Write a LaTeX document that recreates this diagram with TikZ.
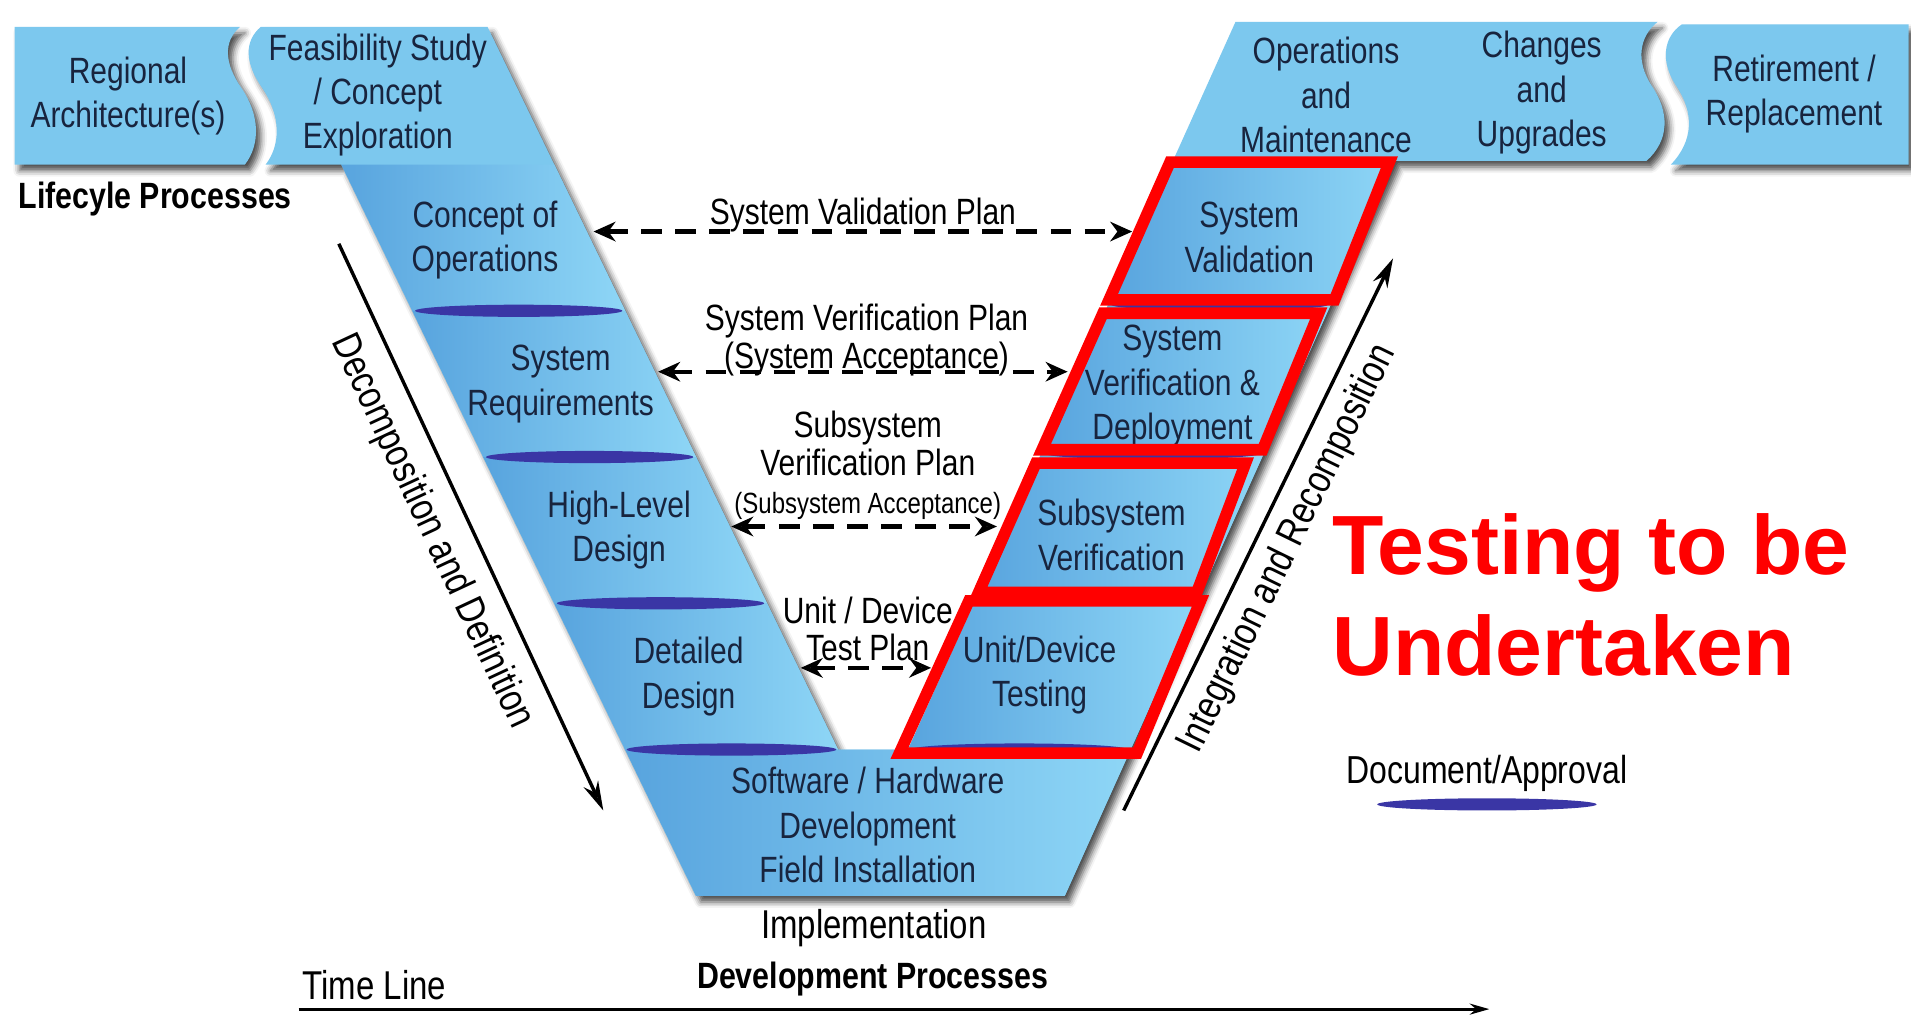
\documentclass[tikz,border=0pt]{standalone}
\usepackage{fontspec}
\setmainfont{Liberation Sans}[FakeStretch=0.82]
\newfontfamily\procfont{Liberation Sans}[FakeStretch=0.83]
\newfontfamily\bigfont{Liberation Sans}
\usepackage{xcolor}
\usepackage{tikz}
\usetikzlibrary{arrows.meta,shadows.blur}

\definecolor{bandblue}{RGB}{124,200,238}
\definecolor{legdark}{RGB}{88,164,222}
\definecolor{leglight}{RGB}{142,214,246}
\definecolor{lensblue}{RGB}{58,54,165}
\definecolor{boxtext}{RGB}{24,36,62}
\definecolor{testred}{RGB}{255,0,0}

\begin{document}
\begin{tikzpicture}[
    x=1pt, y=-1pt,
    shadowed/.style={blur shadow={shadow xshift=4pt, shadow yshift=-5pt, shadow blur radius=5pt, shadow opacity=70}},
    legpart/.style={left color=legdark, right color=leglight},
    lens/.style={fill=lensblue},
    box/.style={align=center, text=boxtext, font=\fontsize{30}{36.5}\selectfont},
    plan/.style={align=center, font=\fontsize{30}{31}\selectfont},
    side/.style={font=\fontsize{33}{36}\selectfont, inner sep=0pt},
    proc/.style={font=\procfont\bfseries\fontsize{30}{36}\selectfont, inner sep=0pt},
    planarr/.style={{Stealth[length=18pt,width=16pt]}-{Stealth[length=18pt,width=16pt]}, line width=3.5pt, dash pattern=on 17pt off 11pt},
    bigarr/.style={-{Stealth[length=24pt,width=13pt]}, line width=2.8pt},
    testbox/.style={draw=testred, line width=9.5pt}
]
\useasboundingbox (0,0) rectangle (1568,834);

% blue bands
\path[fill=bandblue, shadowed] (12,22) -- (197,22) .. controls (183,34) and (184,52) .. (198,72) .. controls (213,94) and (214,118) .. (201,135) -- (12,135) -- cycle;
\path[fill=bandblue, shadowed] (214,22) -- (400,22) -- (687.6,615) -- (745,615) -- (1013.7,18) -- (1360,18) .. controls (1345,30) and (1342,50) .. (1355,70) .. controls (1370,92) and (1370,115) .. (1351,132) -- (1145,132) -- (873.7,735) -- (571,735) -- (280,135) -- (218,135) .. controls (231,118) and (230,94) .. (215,72) .. controls (201,52) and (200,34) .. (214,22) -- cycle;
\path[fill=bandblue, shadowed] (1380,20) -- (1566,20) -- (1566,135) -- (1371,135) .. controls (1390,115) and (1390,92) .. (1375,70) .. controls (1362,50) and (1365,30) .. (1380,20) -- cycle;

% left leg
\shade[legpart] (280,135) -- (454.8,135) -- (513,255) -- (338.2,255) -- cycle;
\shade[legpart] (338.2,255) -- (513,255) -- (571.2,375) -- (396.4,375) -- cycle;
\shade[legpart] (396.4,375) -- (571.2,375) -- (629.4,495) -- (454.6,495) -- cycle;
\shade[legpart] (454.6,495) -- (629.4,495) -- (687.6,615) -- (512.8,615) -- cycle;
% right leg
\shade[legpart] (962.4,132) -- (1145,132) -- (1091.9,250) -- (909.3,250) -- cycle;
\shade[legpart] (909.3,250) -- (1091.9,250) -- (1037,372) -- (854.4,372) -- cycle;
\shade[legpart] (854.4,372) -- (1037,372) -- (983,492) -- (800.4,492) -- cycle;
\shade[legpart] (800.4,492) -- (983,492) -- (927.7,615) -- (745,615) -- cycle;
% bottom
\shade[legpart] (512.8,615) -- (687.6,615) -- (745,615) -- (927.7,615) -- (873.7,735) -- (571,735) -- cycle;

% document / approval marks
\fill[lens] (425.6,255) ellipse [x radius=85pt, y radius=5pt];
\fill[lens] (483.8,375) ellipse [x radius=85pt, y radius=5pt];
\fill[lens] (542,495) ellipse [x radius=85pt, y radius=5pt];
\fill[lens] (600.2,615) ellipse [x radius=86pt, y radius=5pt];
\fill[lens] (1000.6,250) ellipse [x radius=89pt, y radius=5pt];
\fill[lens] (945.7,372) ellipse [x radius=89pt, y radius=5pt];
\fill[lens] (891.7,492) ellipse [x radius=89pt, y radius=5pt];
\fill[lens] (836.4,615) ellipse [x radius=89pt, y radius=5pt];
\fill[lens] (1220,660) ellipse [x radius=90pt, y radius=5pt];

% stage names
\node[box] (regional) at (105,79) {Regional\\Architecture(s)};
\node[box] (feasibility) at (310,78) {Feasibility Study\\/ Concept\\Exploration};
\node[box] (conops) at (398,197) {Concept of\\Operations};
\node[box] (sysreq) at (460,315) {System\\Requirements};
\node[box] (hld) at (508,435) {High-Level\\Design};
\node[box] (detdes) at (565,555) {Detailed\\Design};
\node[box] (swhw) at (712,677) {Software / Hardware\\Development\\Field Installation};
\node[box] (sysval) at (1025,195) {System\\Validation};
\node[box] (sysver) at (962,317) {System\\Verification \&\\Deployment};
\node[box] (subver) at (912,439) {Subsystem\\Verification};
\node[box] (unittest) at (853,554) {Unit/Device\\Testing};
\node[box] (opsmaint) at (1088,78) {Operations\\and\\Maintenance};
\node[box] (changes) at (1265,76) {Changes\\and\\Upgrades};
\node[box] (retire) at (1472,77) {Retirement /\\Replacement};

\node[proc, anchor=base west] (lifecycle) at (15,171) {Lifecyle Processes};
\node[proc, anchor=base] (devproc) at (716,811) {Development Processes};
\node[side, anchor=base] (impl) at (717,770) {Implementation};
\node[side, anchor=base west] (timeline) at (248,820) {Time Line};
\node[side, anchor=base, font=\fontsize{32}{36}\selectfont] (docappr) at (1220,643) {Document/Approval};

% plans between the legs
\coordinate (valL) at (487,190);
\coordinate (valR) at (929,190);
\coordinate (verL) at (540,305);
\coordinate (verR) at (876,305);
\coordinate (subL) at (600,432);
\coordinate (subR) at (818,432);
\coordinate (unitL) at (657,548);
\coordinate (unitR) at (764,548);
\draw[planarr] (valL) -- (valR);
\draw[planarr] (verL) -- (verR);
\draw[planarr] (subL) -- (subR);
\draw[planarr] (unitL) -- (unitR);
\node[plan, anchor=base] (valplan) at (708,184) {System Validation Plan};
\node[plan] (verplan) at (711,279) {System Verification Plan\\(System Acceptance)};
\node[plan] (subplan) at (712,382) {Subsystem\\Verification Plan\\{\fontsize{24}{31}\selectfont(Subsystem Acceptance)}};
\node[plan] (unitplan) at (712,516) {Unit / Device\\Test Plan};

% decomposition / integration
\coordinate (decoTop) at (278,200);
\coordinate (decoBot) at (495,665);
\coordinate (intBot) at (922,665);
\coordinate (intTop) at (1143,212);
\draw[bigarr] (decoTop) -- node[side, sloped, pos=0.48, below=14pt] (decolabel) {Decomposition and Definition} (decoBot);
\draw[bigarr] (intBot) -- node[side, sloped, pos=0.5, below=10pt] (intlabel) {Integration and Recomposition} (intTop);

\coordinate (tlStart) at (245,828);
\coordinate (tlEnd) at (1222,828);
\draw[-{Stealth[length=16pt,width=9pt]}, line width=2.5pt] (tlStart) -- (tlEnd);

% testing in scope
\draw[testbox] (960,133) -- (1140,133) -- (1095,246) -- (910,246) -- cycle;
\draw[testbox] (905,257) -- (1082,257) -- (1036,369) -- (855,369) -- cycle;
\draw[testbox] (850,380) -- (1022,380) -- (982,486) -- (803,486) -- cycle;
\draw[testbox] (795,493) -- (985,493) -- (933,618) -- (738,618) -- cycle;

\node[anchor=west, inner sep=0pt, align=left, text=testred, font=\bigfont\bfseries\fontsize{69}{83}\selectfont] (todo) at (1093,488) {Testing to be\\Undertaken};
\end{tikzpicture}
\end{document}
